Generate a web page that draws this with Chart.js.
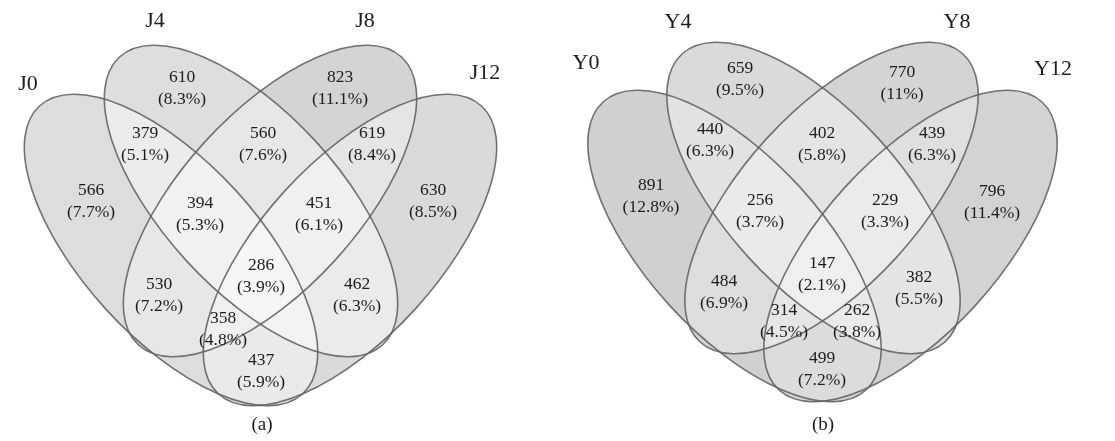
<!DOCTYPE html>
<html>
<head>
<meta charset="utf-8">
<title>Venn diagrams</title>
<script src="https://cdn.jsdelivr.net/npm/chart.js@4.4.1/dist/chart.umd.min.js"></script>
<style>
  html, body { margin: 0; padding: 0; background: #ffffff; }
  #wrap { width: 1115px; height: 441px; }
</style>
</head>
<body>
<div id="wrap"><canvas id="venn" width="1115" height="441"></canvas></div>
<script>
// ---- Data: panel (a) ----
const setsA = ['J0', 'J4', 'J8', 'J12'];
const regionsA = ['J4', 'J8', 'J0∩J4', 'J4∩J8', 'J8∩J12', 'J0', 'J0∩J4∩J8', 'J4∩J8∩J12',
                  'J12', 'J0∩J4∩J8∩J12', 'J0∩J8', 'J4∩J12', 'J0∩J8∩J12', 'J0∩J12'];
const countsA = [610, 823, 379, 560, 619, 566, 394, 451, 630, 286, 530, 462, 358, 437];
const pctA    = [8.3, 11.1, 5.1, 7.6, 8.4, 7.7, 5.3, 6.1, 8.5, 3.9, 7.2, 6.3, 4.8, 5.9];

// ---- Data: panel (b) ----
const setsB = ['Y0', 'Y4', 'Y8', 'Y12'];
const regionsB = ['Y4', 'Y8', 'Y0∩Y4', 'Y4∩Y8', 'Y8∩Y12', 'Y0', 'Y0∩Y4∩Y8', 'Y4∩Y8∩Y12',
                  'Y12', 'Y0∩Y4∩Y8∩Y12', 'Y0∩Y8', 'Y4∩Y12', 'Y0∩Y8∩Y12', 'Y0∩Y4∩Y12', 'Y0∩Y12'];
const countsB = [659, 770, 440, 402, 439, 891, 256, 229, 796, 147, 484, 382, 314, 262, 499];
const pctB    = [9.5, 11, 6.3, 5.8, 6.3, 12.8, 3.7, 3.3, 11.4, 2.1, 6.9, 5.5, 4.5, 3.8, 7.2];

const captions = ['(a)', '(b)'];

// ---- Layout (canvas units) ----
// label anchor per region: [x, y of the middle between the two text lines]
const labelPosA = [[182, 88], [340, 88], [145, 144.5], [263, 144.5], [372, 144.5], [91, 201],
                   [200, 214.5], [319, 214.5], [433, 201], [261, 276], [159, 295], [357, 295],
                   [223, 329.5], [261, 371.5]];
const labelPosB = [[740, 79], [902, 83.5], [710, 140], [822, 144.5], [932, 144.5], [651, 196.5],
                   [760, 211], [885, 211], [992, 202.5], [822, 274], [724, 292], [919, 288.5],
                   [784, 321], [857, 321], [822, 369]];
const setNamePosA = [[28, 84], [155, 21], [365, 21], [485, 73]];
const setNamePosB = [[586, 63], [678, 22], [957, 22], [1053, 69]];

// ellipse shape shared by both panels
const ELL = { rx: 195, ry: 88, tilt: 47.6 };
// per panel: symmetry axis, vertical centres, brightening strength per set
const panels = [
  { axis: 260.5, outerY: 250, innerY: 201, outerDx: 89.5, innerDx: 9.5,
    lift: [0.43, 0.46, 0.29, 0.39], sets: setsA, names: setNamePosA, caption: [262, 425] },
  { axis: 822.5, outerY: 246, innerY: 198, outerDx: 88, innerDx: 9,
    lift: [0.22, 0.38, 0.29, 0.27], sets: setsB, names: setNamePosB, caption: [823, 425] }
];

function ellipsesOf(p) {
  return [
    { cx: p.axis - p.outerDx, cy: p.outerY, rot:  ELL.tilt },
    { cx: p.axis - p.innerDx, cy: p.innerY, rot:  ELL.tilt },
    { cx: p.axis + p.innerDx, cy: p.innerY, rot: -ELL.tilt },
    { cx: p.axis + p.outerDx, cy: p.outerY, rot: -ELL.tilt }
  ];
}

const SERIF = '"Liberation Serif", "DejaVu Serif", serif';

const vennPlugin = {
  id: 'vennShapes',
  beforeDatasetsDraw(chart) {
    const { ctx, scales: { x, y } } = chart;
    const sx = v => x.getPixelForValue(v);
    const sy = v => y.getPixelForValue(v);
    const kx = sx(1) - sx(0), ky = sy(1) - sy(0);
    const path = e => {
      ctx.beginPath();
      ctx.ellipse(sx(e.cx), sy(e.cy), ELL.rx * kx, ELL.ry * ky, e.rot * Math.PI / 180, 0, Math.PI * 2);
    };
    ctx.save();
    panels.forEach(p => {
      const ells = ellipsesOf(p);
      // union in base grey
      ctx.fillStyle = 'rgb(195,195,195)';
      ells.forEach(e => { path(e); ctx.fill(); });
      // each set lightens what it covers, so overlaps get brighter
      ells.forEach((e, i) => {
        ctx.fillStyle = 'rgba(255,255,255,' + p.lift[i] + ')';
        path(e); ctx.fill();
      });
      ctx.strokeStyle = 'rgba(100,100,100,0.9)';
      ctx.lineWidth = 1.6;
      ells.forEach(e => { path(e); ctx.stroke(); });
    });
    ctx.restore();
  },
  afterDatasetsDraw(chart) {
    const { ctx, scales: { x, y } } = chart;
    ctx.save();
    ctx.fillStyle = '#1c1c1c';
    ctx.textAlign = 'center';
    ctx.textBaseline = 'middle';
    // region counts and shares
    const sources = [[countsA, pctA], [countsB, pctB]];
    chart.data.datasets.forEach((ds, di) => {
      const meta = chart.getDatasetMeta(di);
      const [cnt, pct] = sources[di];
      ctx.font = '17.5px ' + SERIF;
      meta.data.forEach((pt, i) => {
        ctx.fillText(String(cnt[i]), pt.x, pt.y - 11);
        ctx.fillText('(' + String(pct[i]) + '%)', pt.x, pt.y + 11);
      });
    });
    // set names and captions
    panels.forEach((p, pi) => {
      ctx.font = '22px ' + SERIF;
      p.sets.forEach((s, i) => {
        ctx.fillText(s, x.getPixelForValue(p.names[i][0]), y.getPixelForValue(p.names[i][1]));
      });
      ctx.font = '19px ' + SERIF;
      ctx.fillText(captions[pi], x.getPixelForValue(p.caption[0]), y.getPixelForValue(p.caption[1]));
    });
    ctx.restore();
  }
};

const toPoints = (pos, counts) => counts.map((c, i) => ({ x: pos[i][0], y: pos[i][1], v: c }));

new Chart(document.getElementById('venn'), {
  type: 'scatter',
  data: {
    datasets: [
      { label: 'a', data: toPoints(labelPosA, countsA), pointRadius: 0, pointHoverRadius: 0 },
      { label: 'b', data: toPoints(labelPosB, countsB), pointRadius: 0, pointHoverRadius: 0 }
    ]
  },
  options: {
    responsive: false,
    animation: false,
    events: [],
    layout: { padding: 0 },
    plugins: { legend: { display: false }, tooltip: { enabled: false } },
    scales: {
      x: { type: 'linear', min: 0, max: 1115, display: false },
      y: { type: 'linear', min: 0, max: 441, reverse: true, display: false }
    }
  },
  plugins: [vennPlugin]
});
</script>
</body>
</html>
